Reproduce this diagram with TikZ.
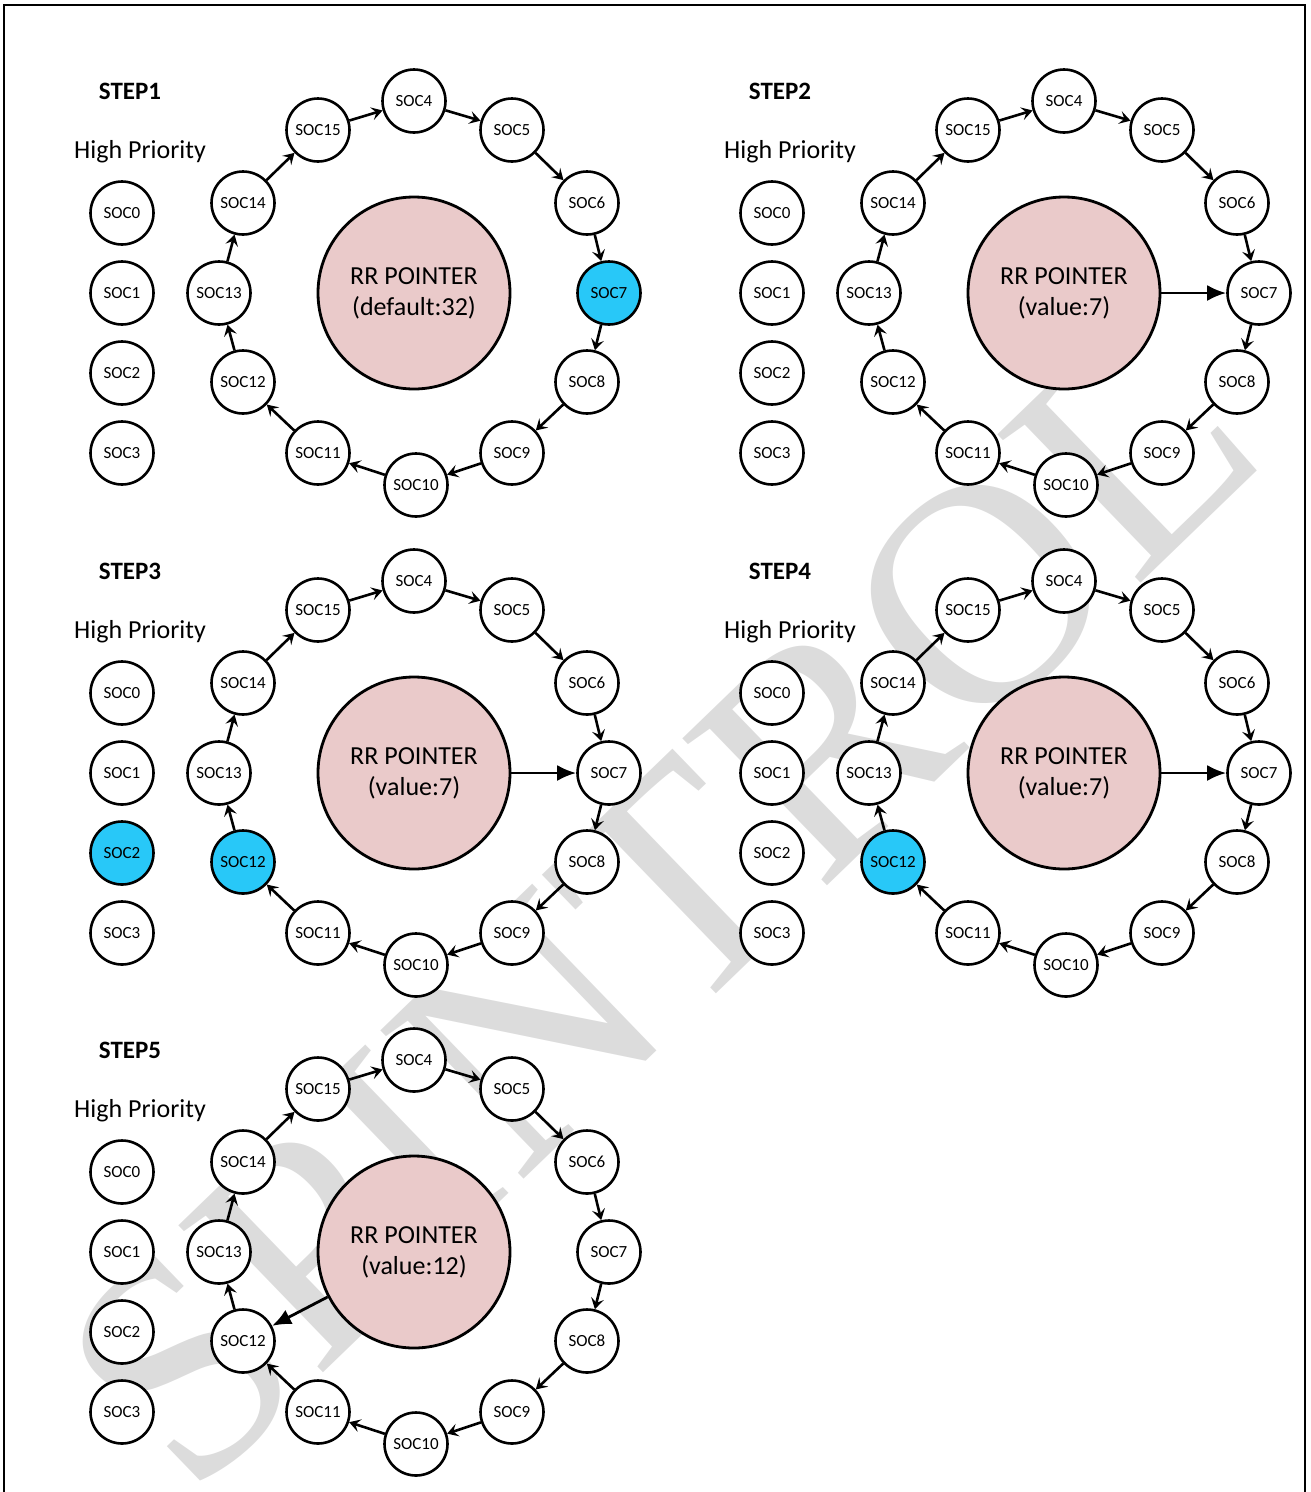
\documentclass[tikz,border=0pt]{standalone}
\usepackage{fontspec}
\setmainfont{Carlito}
\newfontfamily\wmfont{Liberation Serif}
\usetikzlibrary{arrows.meta}
\definecolor{rrpink}{HTML}{EACACA}
\definecolor{socblue}{HTML}{28C8F8}
\definecolor{wmgray}{HTML}{DCDCDC}
\tikzset{
 soc/.style={circle, draw=black, line width=2.6pt, fill=white, minimum size=63pt, inner sep=0pt, font=\fontsize{17}{17}\selectfont},
 hot/.style={fill=socblue},
 rr/.style={circle, draw=black, line width=2.8pt, fill=rrpink, minimum size=192pt, inner sep=0pt, align=center, font=\fontsize{26}{31}\selectfont},
 ring/.style={line width=2.6pt, -{Stealth[length=11pt,width=13pt,inset=4.5pt]}},
 ptr/.style={line width=2.8pt, -{Latex[length=19pt,width=16pt]}},
 steplbl/.style={font=\fontsize{25}{25}\selectfont\bfseries},
 hplbl/.style={font=\fontsize{26}{26}\selectfont},
 hl1-7/.style={hot}, hl3-2/.style={hot}, hl3-12/.style={hot}, hl4-12/.style={hot},
}
\newcommand\drawstep[5]{%
 \begin{scope}[shift={(#2,#3)}]
  \node[steplbl] (s#1lbl) at (-284,-202) {#4};
  \node[hplbl] (s#1hp) at (-274,-141) {High Priority};
  \node[rr] (s#1rr) at (0,0) {#5};
  \foreach \n/\py in {0/-80,1/0,2/80,3/160}
    \node[soc, hl#1-\n/.try] (s#1c\n) at (-292,\py) {SOC\n};
  \foreach \n/\px/\py in {4/0/-192,5/98/-163,6/173/-90,7/195/0,8/173/89,9/98/160,10/2/192,11/-96/160,12/-171/89,13/-195/0,14/-171/-90,15/-96/-163}
    \node[soc, hl#1-\n/.try] (s#1c\n) at (\px,\py) {SOC\n};
  \foreach \a/\b in {4/5,5/6,6/7,7/8,8/9,9/10,10/11,11/12,12/13,13/14,14/15,15/4}
    \draw[ring] (s#1c\a) -- (s#1c\b);
 \end{scope}}
\begin{document}
\begin{tikzpicture}[x=1pt,y=-1pt]
\useasboundingbox (0,0) rectangle (1311,1492);
\node[text=wmgray, rotate=44, inner sep=0pt, font=\wmfont\fontsize{315}{315}\selectfont] (wm) at (660,905) {SPINTROL};
\draw[line width=2pt] (4,1500) -- (4,5) -- (1305,5) -- (1305,1500);
\drawstep{1}{414}{293}{STEP1}{RR POINTER\\(default:32)}
\drawstep{2}{1064}{293}{STEP2}{RR POINTER\\(value:7)}
\drawstep{3}{414}{773}{STEP3}{RR POINTER\\(value:7)}
\drawstep{4}{1064}{773}{STEP4}{RR POINTER\\(value:7)}
\drawstep{5}{414}{1252}{STEP5}{RR POINTER\\(value:12)}
\draw[ptr] (s2rr) -- (s2c7);
\draw[ptr] (s3rr) -- (s3c7);
\draw[ptr] (s4rr) -- (s4c7);
\draw[ptr] (s5rr) -- (s5c12);
\end{tikzpicture}
\end{document}
